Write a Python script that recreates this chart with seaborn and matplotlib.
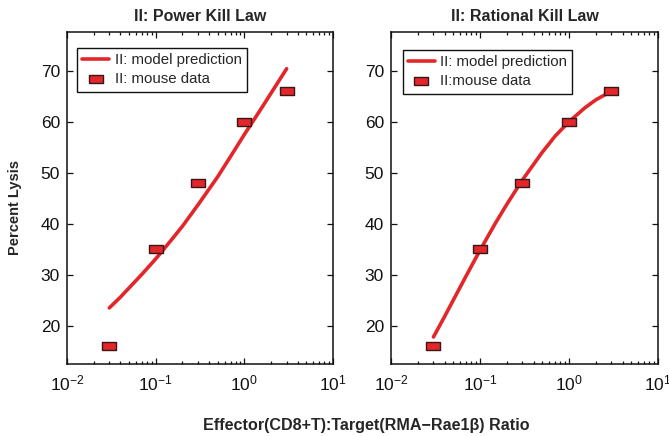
import numpy as np
import pandas as pd
import matplotlib
matplotlib.use("Agg")
import matplotlib.pyplot as plt
import seaborn as sns
from matplotlib.ticker import LogLocator, FixedLocator, NullFormatter

# ---- data ----
ratio = [0.03, 0.1, 0.3, 1.0, 3.0]
lysis = [16, 35, 48, 60, 66]

curve_x = [0.03, 0.04, 0.05, 0.07, 0.1, 0.15, 0.2, 0.3, 0.5, 0.7, 1.0, 1.5, 2.0, 3.0]
power_curve = [23.5, 25.6, 27.4, 30.1, 33.1, 36.8, 39.5, 43.7, 49.2, 53.2, 57.5, 62.2, 65.6, 70.4]
rational_curve = [17.8, 21.8, 25.0, 29.8, 34.8, 40.2, 43.8, 48.6, 54.0, 57.2, 60.0, 62.7, 64.3, 66.0]

titles = ["II: Power Kill Law", "II: Rational Kill Law"]
line_labels = ["II: model prediction", "II: model prediction"]
data_labels = ["II: mouse data", "II:mouse data"]
y_ticks = [20, 30, 40, 50, 60, 70]

sns.set_theme(style="ticks")
plt.rcParams["font.family"] = ["Liberation Sans", "DejaVu Sans"]
plt.rcParams["mathtext.fontset"] = "custom"
plt.rcParams["mathtext.rm"] = "Liberation Sans"
plt.rcParams["mathtext.it"] = "Liberation Sans:italic"
plt.rcParams["mathtext.bf"] = "Liberation Sans:bold"

red = "#E3262A"
edge = "#3a1616"
rect = [(-1.45, -1), (1.45, -1), (1.45, 1), (-1.45, 1), (-1.45, -1)]

fig = plt.figure(figsize=(6.69, 4.36), dpi=100)
W, H = 669, 436
axes_px = [(67, 333), (391, 658)]
top, bottom = 32, 364

curves = [power_curve, rational_curve]
legend_pos = [(0.0376, 0.952), (0.044, 0.946)]

for i, (x0, x1) in enumerate(axes_px):
    ax = fig.add_axes([x0 / W, (H - bottom) / H, (x1 - x0) / W, (bottom - top) / H])
    dfc = pd.DataFrame({"x": curve_x, "y": curves[i]})
    dfd = pd.DataFrame({"x": ratio, "y": lysis})
    sns.lineplot(data=dfc, x="x", y="y", ax=ax, color=red, lw=2.6,
                 label=line_labels[i], zorder=2)
    sns.scatterplot(data=dfd, x="x", y="y", ax=ax, marker=rect, s=88,
                    color=red, edgecolor=edge, linewidth=1.0,
                    label=data_labels[i], zorder=3)
    ax.set_xscale("log")
    ax.set_xlim(1e-2, 1e1)
    ax.set_ylim(12.5, 77.6)
    ax.yaxis.set_major_locator(FixedLocator(y_ticks))
    ax.xaxis.set_major_locator(LogLocator(base=10, numticks=10))
    ax.xaxis.set_minor_locator(LogLocator(base=10, subs=np.arange(2, 10), numticks=10))
    ax.xaxis.set_minor_formatter(NullFormatter())
    ax.tick_params(which="both", direction="in", top=True, right=True,
                   labelsize=12.5, colors="#111111", width=0.9)
    ax.tick_params(which="major", length=4.5, pad=7)
    ax.tick_params(which="minor", length=2.5)
    ax.tick_params(axis="y", pad=5)
    for sp in ax.spines.values():
        sp.set_visible(True)
        sp.set_linewidth(1.1)
        sp.set_color("#111111")
    ax.set_xlabel("")
    ax.set_ylabel("")
    ax.set_title(titles[i], fontsize=11.5, fontweight="bold", pad=8)
    leg = ax.legend(loc="upper left", bbox_to_anchor=legend_pos[i], borderaxespad=0,
                    fontsize=10.8, frameon=True, fancybox=False, framealpha=1,
                    edgecolor="#111111", handlelength=1.8, handletextpad=0.35,
                    borderpad=0.35, labelspacing=0.35)
    leg.get_frame().set_linewidth(1.0)

fig.text(15 / W, 1 - 207 / H, "Percent Lysis", rotation=90, fontsize=10.5,
         fontweight="bold", ha="center", va="center")
fig.text(366 / W, 1 - 425 / H, "Effector(CD8+T):Target(RMA\u2212Rae1\u03b2) Ratio",
         fontsize=11.6, fontweight="bold", ha="center", va="center")

fig.savefig("out.png", dpi=100)
